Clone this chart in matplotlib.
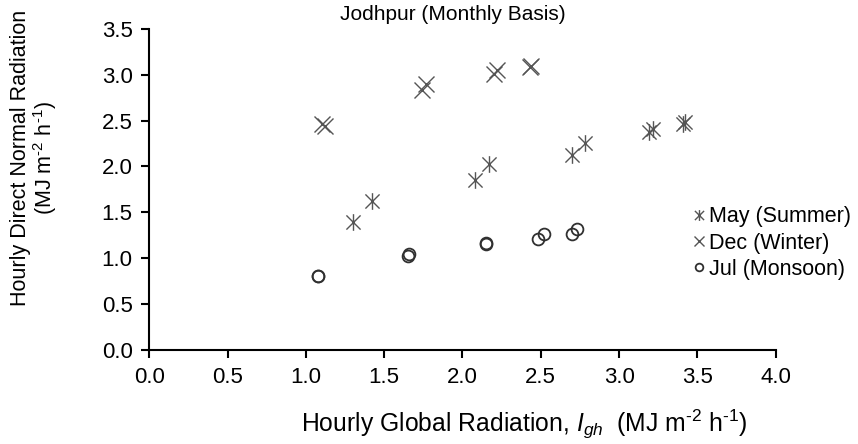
import numpy as np
import matplotlib
matplotlib.use('Agg')
import matplotlib.pyplot as plt
from matplotlib.path import Path

plt.rcParams['font.family'] = ['Liberation Sans', 'DejaVu Sans']
plt.rcParams['mathtext.fontset'] = 'custom'
plt.rcParams['mathtext.rm'] = 'Liberation Sans'
plt.rcParams['mathtext.it'] = 'Liberation Sans:italic'

# hourly values, Jodhpur
may_x = [1.30, 1.42, 2.08, 2.17, 2.70, 2.78, 3.19, 3.22, 3.41, 3.42]
may_y = [1.39, 1.62, 1.85, 2.03, 2.13, 2.26, 2.38, 2.41, 2.46, 2.48]
dec_x = [1.10, 1.12, 1.74, 1.77, 2.20, 2.22, 2.43, 2.44]
dec_y = [2.46, 2.44, 2.83, 2.90, 3.01, 3.05, 3.08, 3.09]
jul_x = [1.08, 1.08, 1.65, 1.66, 2.15, 2.15, 2.48, 2.52, 2.70, 2.73]
jul_y = [0.80, 0.81, 1.02, 1.04, 1.15, 1.17, 1.21, 1.26, 1.26, 1.32]
labels = ['May (Summer)', 'Dec (Winter)', 'Jul (Monsoon)']

# excel style star: vertical bar plus an x
star = Path([(0, -1), (0, 1), (-0.85, -0.85), (0.85, 0.85), (-0.85, 0.85), (0.85, -0.85)],
            [Path.MOVETO, Path.LINETO, Path.MOVETO, Path.LINETO, Path.MOVETO, Path.LINETO])

fig = plt.figure(figsize=(8.58, 4.44), dpi=100)
ax = fig.add_axes([0.174, 0.212, 0.730, 0.723])

mc = '#555555'
ax.plot(may_x, may_y, ls='none', marker=star, ms=12, mew=1.0, mec=mc, mfc='none', label=labels[0])
ax.plot(dec_x, dec_y, ls='none', marker='x', ms=11.5, mew=1.0, mec=mc, label=labels[1])
ax.plot(jul_x, jul_y, ls='none', marker='o', ms=8.5, mew=1.3, mec='#303030', mfc='none', label=labels[2])

ax.set_xlim(0, 4)
ax.set_ylim(0, 3.5)
ax.set_xticks(np.arange(0, 4.01, 0.5))
ax.set_yticks(np.arange(0, 3.51, 0.5))
ax.xaxis.set_major_formatter(matplotlib.ticker.FormatStrFormatter('%.1f'))
ax.yaxis.set_major_formatter(matplotlib.ticker.FormatStrFormatter('%.1f'))
ax.tick_params(direction='out', length=6, width=1.5, labelsize=16, pad=6, colors='black')
for s in ['top', 'right']:
    ax.spines[s].set_visible(False)
for s in ['left', 'bottom']:
    ax.spines[s].set_linewidth(1.5)

units = r'(MJ m$^{\text{-}2}$ h$^{\text{-}1}$)'
fig.text(0.528, 0.968, 'Jodhpur (Monthly Basis)', ha='center', va='center', fontsize=15)
fig.text(0.611, 0.045, r'Hourly Global Radiation, $I_{gh}$  ' + units,
         ha='center', va='center', fontsize=17.8)
fig.text(0.040, 0.645, 'Hourly Direct Normal Radiation\n' + units, ha='center',
         va='center', rotation=90, fontsize=15.5, linespacing=1.0)

leg = ax.legend(loc='upper left', bbox_to_anchor=(0.795, 0.56), bbox_transform=fig.transFigure,
                frameon=False, fontsize=15.5, handlelength=0.6, handletextpad=0.15,
                labelspacing=0.25, markerscale=0.65, borderpad=0)

fig.savefig('out.png', dpi=100)
